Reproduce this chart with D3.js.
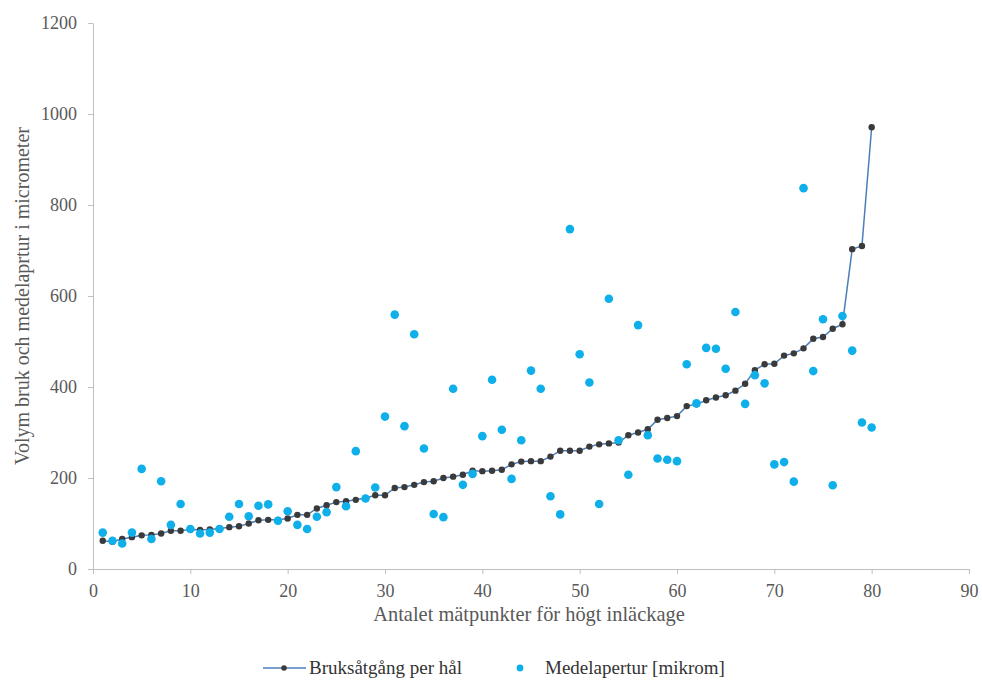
<!DOCTYPE html>
<html>
<head>
<meta charset="utf-8">
<script src="https://cdn.jsdelivr.net/npm/d3@7"></script>
<style>
  body { margin: 0; background: #fff; }
  svg { display: block; }
  svg text { font-family: "Liberation Serif", "Times New Roman", serif; }
</style>
</head>
<body>
<svg id="chart" width="982" height="687"></svg>
<script>
// Measurement points 1..80
const points = d3.range(1, 81);

// Bruksåtgång per hål (line series)
const bruk = [62, 60, 66, 70, 74, 75, 78, 84, 84, 87,
              86, 87, 89, 92, 94, 100, 107, 108, 108, 111,
              119, 119, 133, 140, 147, 149, 152, 156, 162, 162,
              178, 180, 185, 191, 193, 200, 203, 207, 216, 215,
              216, 218, 230, 236, 237, 237, 247, 260, 260, 260,
              269, 274, 276, 278, 294, 300, 307, 328, 332, 336,
              358, 362, 371, 377, 382, 392, 407, 437, 450, 451,
              469, 474, 485, 506, 510, 528, 538, 703, 710, 971];

// Medelapertur [mikrom] (scatter series)
const apertur = [80, 62, 56, 80, 220, 66, 193, 97, 143, 88,
                 78, 80, 88, 115, 143, 116, 139, 142, 106, 127,
                 97, 88, 115, 125, 180, 138, 259, 155, 179, 335,
                 559, 314, 516, 265, 121, 114, 396, 185, 209, 292,
                 416, 306, 198, 283, 436, 396, 160, 120, 747, 472,
                 410, 143, 594, 283, 207, 536, 294, 243, 240, 237,
                 450, 364, 486, 484, 440, 565, 363, 426, 408, 230,
                 235, 192, 837, 435, 549, 184, 556, 480, 322, 311];

const xTicks = d3.range(0, 91, 10);
const yTicks = d3.range(0, 1201, 200);

const seriesNames = ["Bruksåtgång per hål", "Medelapertur [mikrom]"];
const xTitle = "Antalet mätpunkter för högt inläckage";
const yTitle = "Volym bruk och medelaprtur i micrometer";

const FONT = '"Liberation Serif", "Times New Roman", serif';
const svg = d3.select("#chart");
const margin = { left: 93, right: 13, top: 23, bottom: 118 };
const W = 982, H = 687;

const x = d3.scaleLinear().domain([0, 90]).range([margin.left, W - margin.right]);
const y = d3.scaleLinear().domain([0, 1200]).range([H - margin.bottom, margin.top]);

const axisColor = "#bfbfbf";
const labelColor = "#595959";

// Axes
const gx = svg.append("g")
  .attr("transform", `translate(0,${y(0)})`)
  .call(d3.axisBottom(x).tickValues(xTicks).tickFormat(d3.format("d"))
    .tickSize(5).tickSizeOuter(0).tickPadding(10));
const gy = svg.append("g")
  .attr("transform", `translate(${x(0)},0)`)
  .call(d3.axisLeft(y).tickValues(yTicks).tickFormat(d3.format("d"))
    .tickSize(5).tickSizeOuter(0).tickPadding(11));

[gx, gy].forEach(g => {
  g.attr("font-family", FONT).attr("font-size", 18);
  g.select(".domain").attr("stroke", axisColor).attr("stroke-width", 1);
  g.selectAll(".tick line").attr("stroke", axisColor);
  g.selectAll(".tick text")
    .attr("fill", labelColor)
    .attr("font-family", FONT)
    .attr("font-size", 18);
});

// Axis titles
svg.append("text")
  .attr("x", (x(0) + x(90)) / 2 - 2)
  .attr("y", 621)
  .attr("text-anchor", "middle")
  .attr("font-family", FONT)
  .attr("font-size", 20.4)
  .attr("fill", labelColor)
  .text(xTitle);

svg.append("text")
  .attr("transform", `translate(29,${(y(0) + y(1200)) / 2}) rotate(-90)`)
  .attr("text-anchor", "middle")
  .attr("font-family", FONT)
  .attr("font-size", 20)
  .attr("fill", labelColor)
  .text(yTitle);

// Line series
const lineColor = "#4a7ebb";
const markerColor = "#3a3a3a";
const dotColor = "#0fb0ea";

const line = d3.line()
  .x((d, i) => x(points[i]))
  .y(d => y(d));

svg.append("path")
  .datum(bruk)
  .attr("fill", "none")
  .attr("stroke", lineColor)
  .attr("stroke-width", 1.5)
  .attr("d", line);

svg.append("g").selectAll("circle")
  .data(bruk)
  .join("circle")
  .attr("cx", (d, i) => x(points[i]))
  .attr("cy", d => y(d))
  .attr("r", 3.2)
  .attr("fill", markerColor);

// Scatter series
svg.append("g").selectAll("circle")
  .data(apertur)
  .join("circle")
  .attr("cx", (d, i) => x(points[i]))
  .attr("cy", d => y(d))
  .attr("r", 4.3)
  .attr("fill", dotColor);

// Legend
const ly = 668;
const leg = svg.append("g").attr("font-family", FONT).attr("font-size", 19);
leg.append("line")
  .attr("x1", 263).attr("x2", 306)
  .attr("y1", ly).attr("y2", ly)
  .attr("stroke", lineColor).attr("stroke-width", 1.5);
leg.append("circle").attr("cx", 284).attr("cy", ly).attr("r", 2.8).attr("fill", markerColor);
leg.append("text").attr("x", 309).attr("y", ly + 5.5).attr("fill", "#333").text(seriesNames[0]);

leg.append("circle").attr("cx", 520).attr("cy", ly).attr("r", 3.4).attr("fill", dotColor);
leg.append("text").attr("x", 545).attr("y", ly + 5.5).attr("fill", "#333").text(seriesNames[1]);
</script>
</body>
</html>
